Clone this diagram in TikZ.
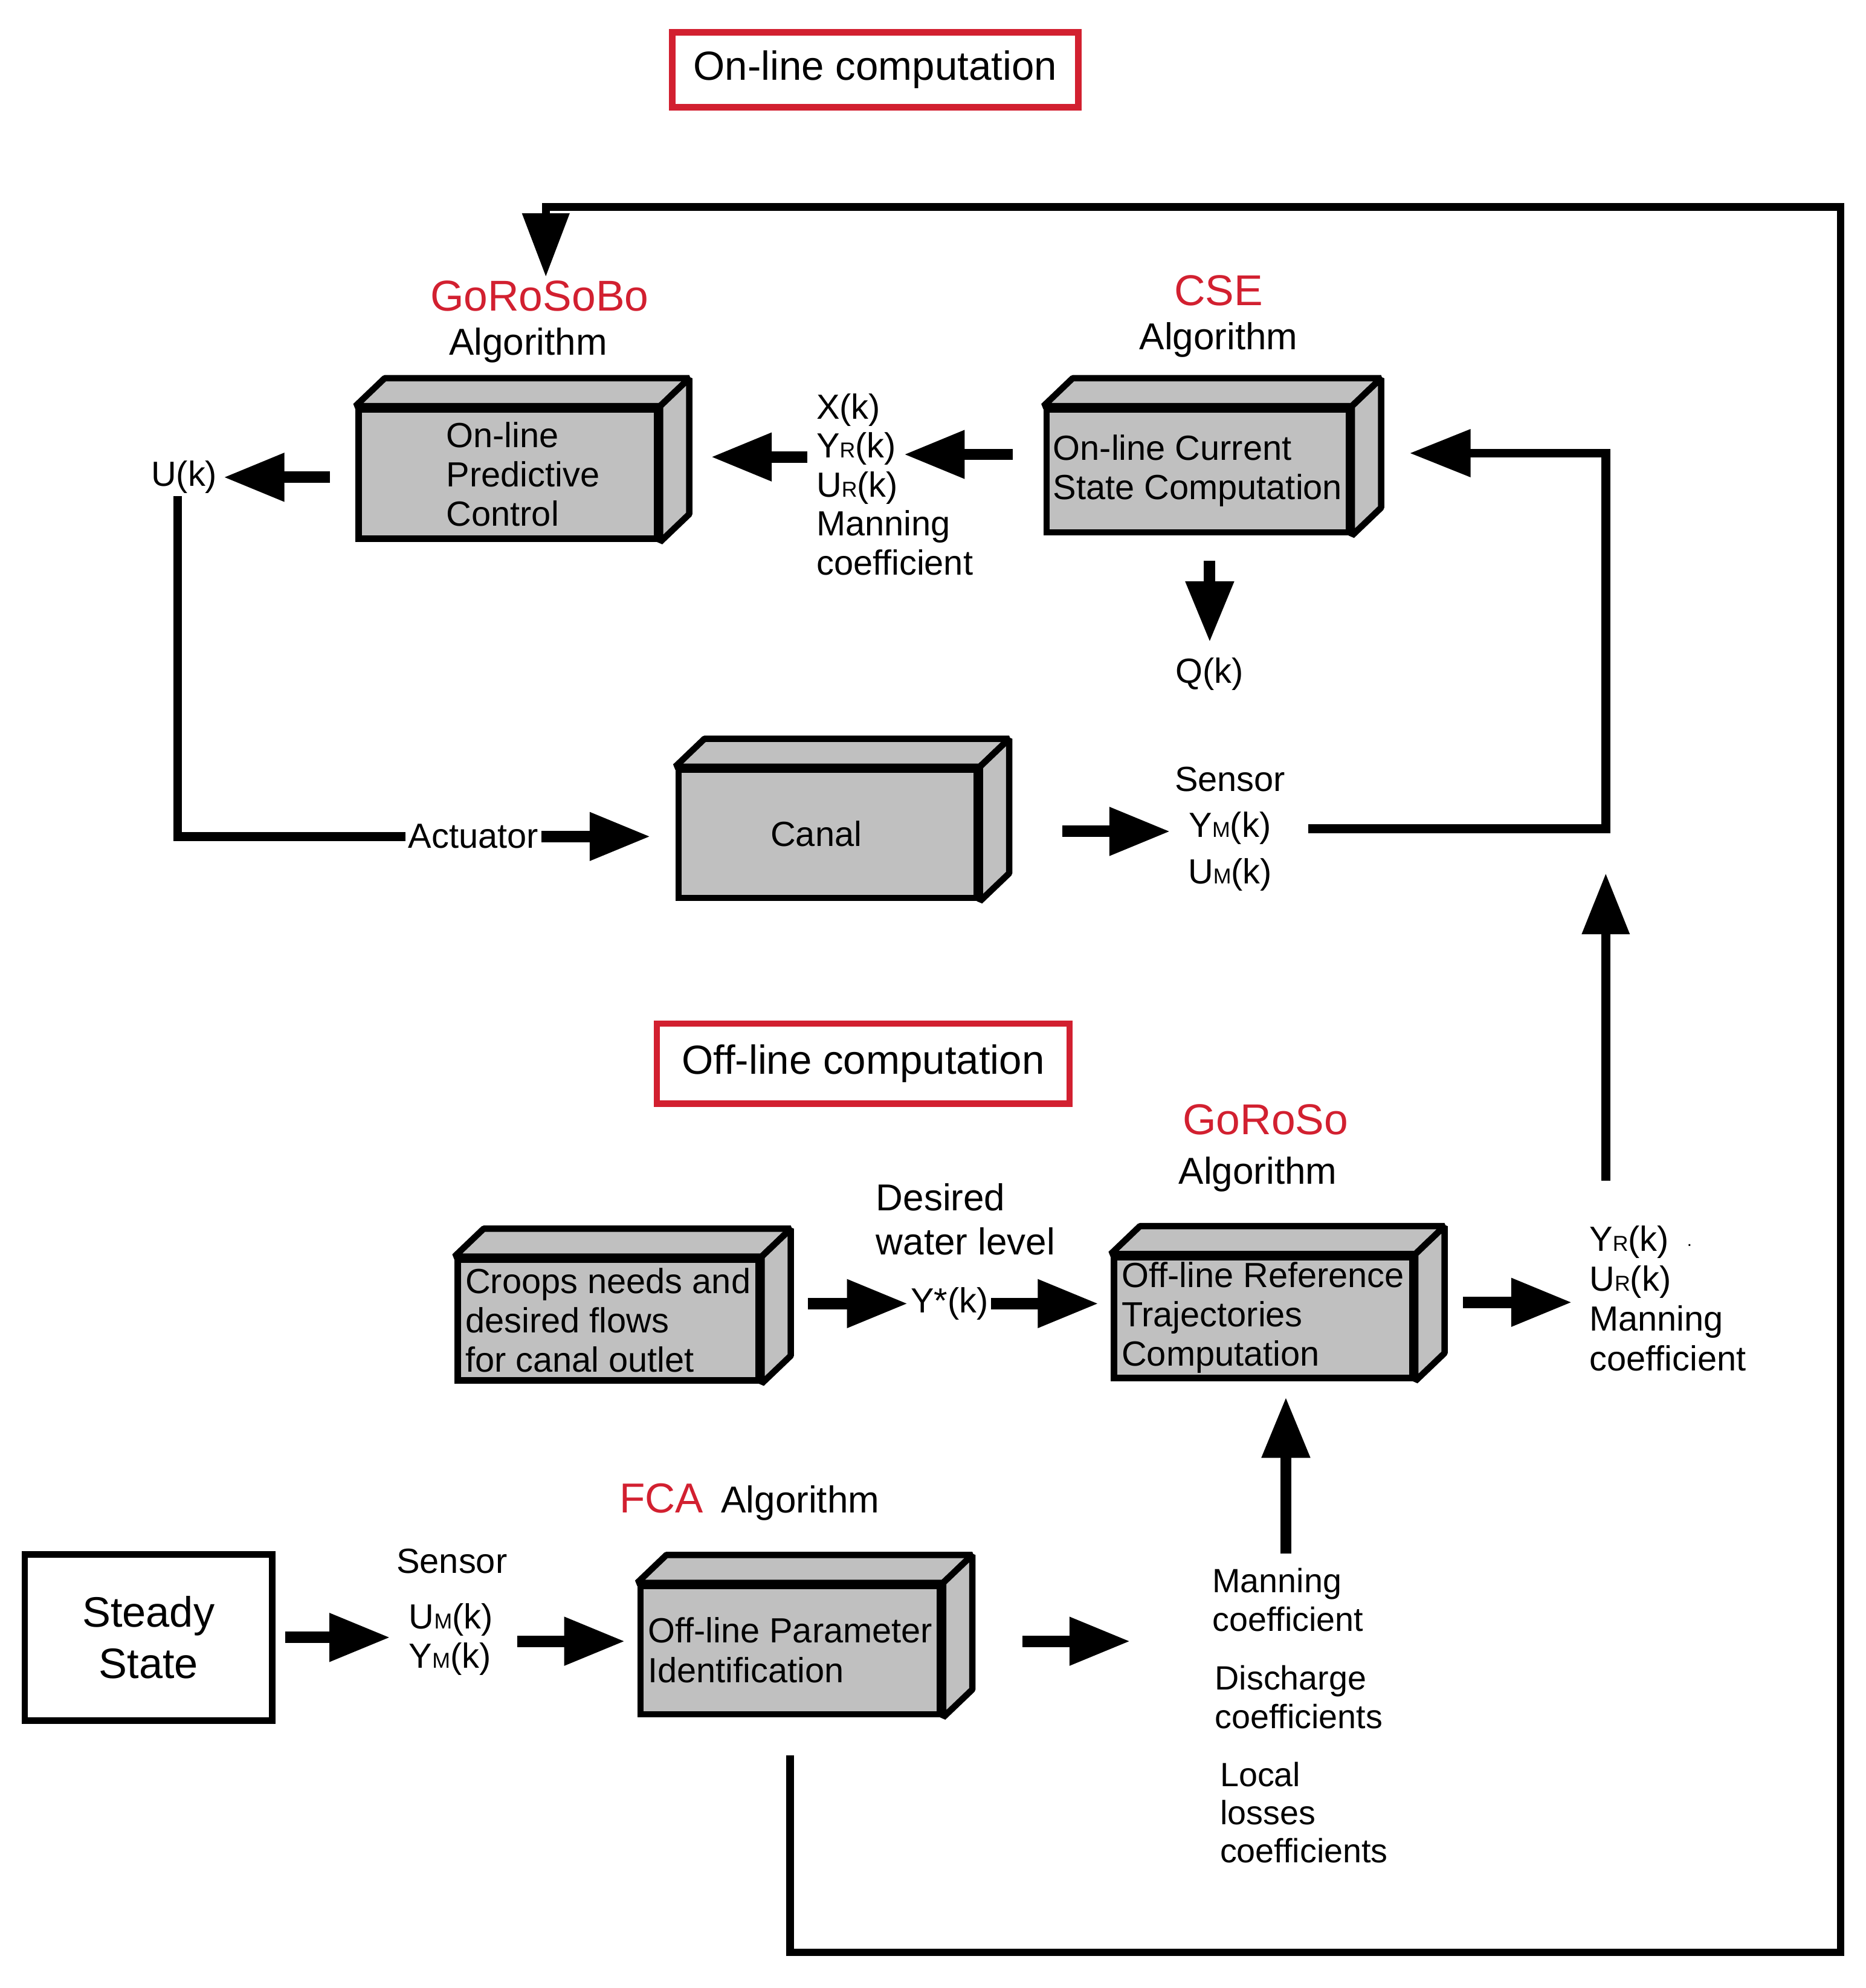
\documentclass[tikz,border=0pt]{standalone}
\usepackage{fontspec}
\setmainfont{Liberation Sans}
\usetikzlibrary{arrows.meta,calc}
\definecolor{boxgray}{RGB}{192,192,192}
\definecolor{redlab}{RGB}{210,32,48}
\newcommand\fsz[2]{\fontsize{#1}{#2}\selectfont}
\newcommand\sbx[1]{{\fontsize{17}{17}\selectfont #1}}
\newcommand\cubebox[6]{%
  \node[box, minimum width=#4pt, minimum height=#5pt] (#1) at (#2,#3) {#6};
  \draw[face] (#1.north west) -- ++(23,-22) -- ([shift={(23,-22)}]#1.north east) -- (#1.north east) -- cycle;
  \draw[face] (#1.north east) -- ++(23,-22) -- ([shift={(23,-22)}]#1.south east) -- (#1.south east) -- cycle;
}
\begin{document}
\begin{tikzpicture}[x=1pt,y=-1pt,
  box/.style={draw=black, line width=5pt, fill=boxgray, inner sep=0pt, align=left, font=\fsz{27.5}{31}},
  face/.style={draw=black, line width=5pt, fill=boxgray, line join=bevel},
  arr/.style={line width=9pt, -{Triangle[length=48pt,width=36pt]}},
  conn/.style={line width=7pt, line join=miter},
  loopline/.style={line width=6pt, line join=miter},
  lbl/.style={inner sep=2pt, font=\fsz{27.5}{31}, align=left},
  redl/.style={inner sep=2pt, text=redlab, font=\fsz{34}{38}},
  alg/.style={inner sep=2pt, font=\fsz{29.5}{34}},
  titlebox/.style={draw=redlab, line width=5pt, minimum width=320pt, minimum height=59pt, font=\fsz{32}{36}, inner sep=0pt},
]
\useasboundingbox (0,0) rectangle (1470,1566.2);

% titles
\node[titlebox] (ton) at (689.5,55) {On-line computation};
\node[titlebox, minimum width=325pt, minimum height=63pt] (toff) at (680,838) {Off-line computation};

% on-line part
\node[redl] (gsb) at (425,233) {GoRoSoBo};
\node[alg] (alg1) at (416,272) {Algorithm};
\cubebox{pc}{400}{373.5}{235}{102}{\hspace*{24pt}On-line\\\hspace*{24pt}Predictive\\\hspace*{24pt}Control}

\node[redl] (cse) at (960,229) {CSE};
\node[alg] (alg2) at (960,268) {Algorithm};
\cubebox{cs}{943.5}{371}{238}{97}{On-line Current\\State Computation}

\node[lbl] (uk) at (145,376) {U(k)};
\node[lbl, anchor=west, font=\fsz{27.5}{30.7}] (v1) at (641,381.5) {X(k)\\Y\sbx{R}(k)\\U\sbx{R}(k)\\Manning\\coefficient};
\node[lbl] (qk) at (953,531) {Q(k)};

\cubebox{canal}{652}{657}{235}{101}{Canal\hspace*{18pt}}
\node[lbl] (act) at (373,659) {Actuator};
\node[lbl, align=center, font=\fsz{27.5}{36.5}] (s1) at (969,653) {Sensor\\Y\sbx{M}(k)\\U\sbx{M}(k)};

\coordinate (j) at (1265,653);
\coordinate (yrtop) at (1265,930);

% off-line part
\node[redl] (gs) at (997,882) {GoRoSo};
\node[alg] (alg3) at (991,925) {Algorithm};
\cubebox{crops}{479}{1040}{237}{95}{Croops needs and\\desired flows\\for canal outlet}
\cubebox{ref}{995}{1038}{235}{95}{Off-line Reference\\Trajectories\\Computation}
\node[lbl, anchor=west, font=\fsz{29.5}{35}] (des) at (688,960.5) {Desired\\water level};
\node[lbl] (ys) at (748,1027) {Y*(k)};
\node[lbl, anchor=west, font=\fsz{27.5}{31.3}] (v2) at (1250,1023) {Y\sbx{R}(k)\\U\sbx{R}(k)\\Manning\\coefficient};
\node[inner sep=0pt, font=\fsz{14}{14}] (dot) at (1331,981) {.};

\node[redl, anchor=base west, font=\fsz{33}{38}] (fca) at (486,1192) {FCA};
\node[alg, anchor=base west] (alg4) at (566,1192) {Algorithm};
\node[draw, line width=5pt, minimum width=195pt, minimum height=131pt, align=center, font=\fsz{33.5}{40}, inner sep=0pt] (ss) at (117,1290) {Steady\\State};
\node[lbl] (sen2) at (356,1230) {Sensor};
\node[lbl, anchor=west] (um2) at (320,1291.5) {U\sbx{M}(k)\\Y\sbx{M}(k)};
\cubebox{par}{622.5}{1300}{236}{101}{Off-line Parameter\\Identification}
\node[lbl, anchor=west, font=\fsz{26.5}{30.5}] (p1) at (953,1260.5) {Manning\\coefficient};
\node[lbl, anchor=west, font=\fsz{26.5}{30.5}] (p2) at (955,1337) {Discharge\\coefficients};
\node[lbl, anchor=west, font=\fsz{26.5}{30}] (p3) at (959,1428) {Local\\losses\\coefficients};

% connectors on-line
\draw[arr] ([xshift=-20pt,yshift=-2.5pt]pc.west) -- ([xshift=-104pt,yshift=-2.5pt]pc.west);
\draw[arr] ([xshift=-24pt,yshift=13pt]cs.west) -- ([xshift=-110pt,yshift=13pt]cs.west);
\draw[arr] ([xshift=116pt,yshift=13.5pt]pc.east) -- ([xshift=40pt,yshift=13.5pt]pc.east);
\draw[arr] ([xshift=9.5pt,yshift=-20pt]cs.south) -- ([xshift=9.5pt,yshift=-84pt]cs.south);
\draw[conn] ([xshift=-5pt]uk.south) |- (act.west);
\draw[arr] (act.east) -- ([xshift=-19.5pt,yshift=-2pt]canal.west);
\draw[arr] ([xshift=65pt,yshift=2pt]canal.east) -- ([xshift=150pt,yshift=2pt]canal.east);
\draw[conn, -{Triangle[length=48pt,width=36pt]}] ([xshift=16pt]s1.east) -- (j) |- ([xshift=45.5pt,yshift=14pt]cs.east);
\draw[conn, -{Triangle[length=48pt,width=36pt]}] (yrtop) -- ([yshift=-35pt]j);

% connectors off-line
\draw[arr] ([xshift=36.5pt,yshift=13pt]crops.east) -- (ys.west);
\draw[arr] (ys.east) -- ([xshift=-9.5pt,yshift=11pt]ref.west);
\draw[arr] ([xshift=37.5pt,yshift=12pt]ref.east) -- ([xshift=123.5pt,yshift=12pt]ref.east);
\draw[arr] ([xshift=18pt,yshift=-136pt]ref.south) -- ([xshift=18pt,yshift=-12.5pt]ref.south);
\draw[arr] ([xshift=7.5pt]ss.east) -- ([xshift=90.5pt]ss.east);
\draw[arr] ([xshift=-94.5pt,yshift=7pt]par.west) -- ([xshift=-9.5pt,yshift=7pt]par.west);
\draw[arr] ([xshift=62.5pt,yshift=7pt]par.east) -- ([xshift=147.5pt,yshift=7pt]par.east);

% outer feedback loop
\coordinate (ltop) at (430,218);
\draw[loopline, -{Triangle[length=50pt,width=36pt]}] ([yshift=-30pt]par.south) -- ++(0,155) -| (1450,163) -| (ltop);
\end{tikzpicture}
\end{document}
